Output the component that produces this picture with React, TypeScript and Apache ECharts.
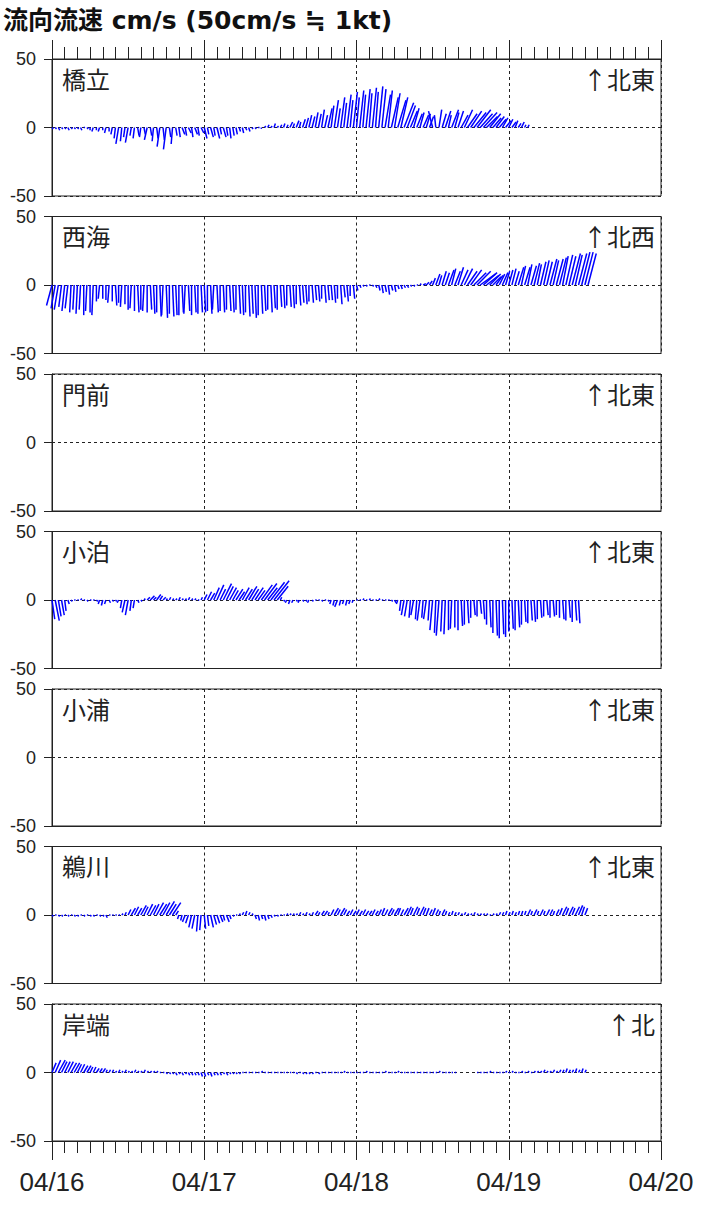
import React, { useEffect, useRef } from "react";
import * as echarts from "echarts";

// ---------- texts ----------
const TITLE = "流向流速 cm/s (50cm/s ≒ 1kt)";
const DAY_LABELS = ["04/16", "04/17", "04/18", "04/19", "04/20"];
const STATIONS = ["橋立", "西海", "門前", "小泊", "小浦", "鵜川", "岸端"];
const DIRECTIONS = ["↑北東", "↑北西", "↑北東", "↑北東", "↑北東", "↑北東", "↑北"];

// sample interval in hours (first sample 04/16 00:00)
const STEP_H = 0.5;

// ---------- data: v = component along the panel's "up" direction, u = across (cm/s) ----------
// 橋立
const hashidateV = [
  -1, -1, -2, -1, -1, -2, -1, -1,
  -1, -2, 0, -1,
  -2, -3, -2, -3, -2, -4, -3, -5,
  -8, -12, -10, -7, -11, -6,
  -8, -6, -7, -5, -9, -6,
  -10, -8, -14, -9, -16, -7, -12, -6,
  -7, -5, -6, -4, -7, -5, -6, -4,
  -8, -5, -7, -6, -8, -5, -7, -6,
  -8, -6, -5, -3, -4, -2, -3, -1,
  -1, 0, -1, 1, 2, 1, 3, 1,
  2, 3, 2, 4, 3, 5, 4, 6,
  7, 9, 8, 11, 10, 13, 9, 14,
  16, 20, 14, 22, 18, 24, 20, 26,
  22, 27, 24, 28, 25, 29, 26, 30,
  28, 24, 27, 22, 25, 20, 22, 18,
  16, 12, 14, 10, 11, 9, 10, 8,
  12, 9, 13, 10, 12, 9, 13, 11,
  12, 9, 13, 10, 12, 11, 13, 10,
  11, 8, 10, 7, 8, 6, 7, 5,
  6, 4, 5, 3, 4, 2, 2,
];
const hashidateU = [
  1, 1, 1, 1, 1, 1, 1, 1,
  1, 1, 1, 1,
  0, -1, 0, -1, 0, -1, 0, -1,
  -1, -2, -1, -1, -2, -1,
  -1, 1, -1, 1, -2, 1,
  -1, 1, -2, 1, -2, 1, -1, 1,
  1, 2, 1, 2, 1, 2, 1, 2,
  2, 1, 2, 1, 2, 1, 2, 1,
  1, 1, 1, 1, 1, 1, 1, 1,
  1, 1, 0, 1, 1, 1, 1, 1,
  1, 1, 1, 2, 1, 2, 1, 2,
  2, 2, 2, 2, 2, 2, 2, 3,
  2, 3, 2, 3, 2, 3, 2, 3,
  2, 3, 2, 3, 2, 3, 2, 3,
  3, 4, 3, 5, 4, 6, 5, 7,
  6, 5, 4, 4, 3, 4, 3, 3,
  -3, -1, 2, 3, 4, 2, 5, 3,
  4, 5, 6, 7, 8, 9, 10, 9,
  10, 8, 8, 6, 6, 5, 4, 4,
  3, 3, 2, 2, 2, 1, 1,
];

// 西海
const saikaiV = [
  -15, -17, -18, -16, -19, -17, -20, -18,
  -21, -18, -22, -19, -20, -22, -12, -10,
  -10, -11, -13, -12, -15, -13, -16, -14,
  -18, -17, -19, -20, -18, -19, -20, -18,
  -21, -20, -23, -22, -24, -21, -23, -22,
  -22, -20, -21, -19, -22, -20, -21, -20,
  -20, -19, -21, -18, -20, -19, -20, -18,
  -19, -20, -18, -21, -22, -20, -23, -21,
  -24, -22, -21, -19, -18, -20, -17, -18,
  -16, -17, -15, -16, -17, -14, -15, -13,
  -14, -12, -13, -11, -12, -10, -13, -11,
  -11, -13, -10, -14, -9, -12, -8, -10,
  -4, -2, -1, -1, 0, -1, -2, -4,
  -6, -5, -7, -4, -5, -3, -3, -2,
  -2, -1, -1, 0, 1, 1, 2, 3,
  5, 8, 7, 10, 9, 11, 12, 10,
  13, 11, 12, 10, 11, 9, 10, 8,
  9, 7, 8, 6, 7, 8, 9, 10,
  11, 12, 10, 13, 14, 13, 15, 14,
  16, 15, 17, 18, 17, 19, 18, 19,
  20, 21, 22, 21, 23, 22, 23, 24,
  24, 23,
];
const saikaiU = [
  -4, -3, -3, -2, -2, -2, -1, -1,
  -1, -1, 0, -1, 0, -1, 0, -1,
  0, 0, -1, 0, 1, 0, -1, 0,
  0, -1, 0, 1, 0, -1, 0, 1,
  1, 0, 1, -1, 1, 0, 1, 1,
  0, 1, -1, 1, 0, 1, 0, 1,
  1, 0, 1, -1, 1, 0, 1, 0,
  1, 1, 0, 1, 1, 0, 1, 1,
  1, 0, 1, 1, 0, 1, 1, 0,
  1, 1, 0, 1, 1, 0, 1, 1,
  1, 0, 1, 1, 1, 0, 1, 1,
  1, 1, 0, 1, 1, 1, 0, 1,
  1, 1, 1, 1, 1, 1, 1, 1,
  1, 1, 1, 1, 1, 1, 1, 1,
  1, 1, 1, 1, 1, 2, 2, 2,
  2, 3, 2, 3, 3, 4, 3, 4,
  4, 5, 6, 7, 8, 9, 10, 11,
  10, 9, 8, 6, 5, 4, 4, 3,
  3, 3, 3, 4, 3, 4, 3, 4,
  4, 3, 4, 4, 4, 5, 4, 5,
  5, 4, 5, 5, 6, 5, 6, 6,
  6, 6,
];

// 門前 / 小浦 : no data
const monzenV: number[] = [];
const monzenU: number[] = [];
const kouraV: number[] = [];
const kouraU: number[] = [];

// 小泊
const kodomariV = [
  -14, -15, -12, -11, -8, -3, -1, 0,
  0, 1, 0, -1, 0, 0, -1, -3,
  -4, -3, -2, -1, -1, -2, -6, -9,
  -11, -8, -6, -2, -1, 1, 2, 3,
  2, 4, 3, 2, 1, 2, 1, 1,
  2, 1, 1, 2, 1, 1, 0, 2,
  4, 6, 5, 9, 11, 8, 12, 10,
  9, 7, 8, 6, 9, 8, 10, 8,
  9, 7, 11, 12, 9, 13, 14, 10,
  2, -1, -2, -3, -2, -1, -2, -1,
  -1, -2, -1, 0, 0, -1, 0, -1,
  -3, -4, -5, -4, -3, -4, -3, -2,
  0, 0, 1, 0, 1, 0, 0, 1,
  0, 0, 0, -1, -2, -3, -8, -11,
  -12, -13, -11, -14, -15, -13, -14, -15,
  -22, -24, -26, -23, -25, -22, -21, -20,
  -22, -19, -18, -17, -13, -11, -12, -10,
  -14, -18, -20, -24, -26, -28, -25, -27,
  -23, -21, -22, -20, -18, -16, -17, -15,
  -16, -14, -13, -12, -11, -13, -12, -11,
  -13, -14, -15, -13, -16, -15, -17,
];
const kodomariU = [
  2, 3, 2, 2, 1, 1, 1, 1,
  1, 1, 1, 1, 1, 1, 1, -1,
  -1, -1, 1, 1, 1, -1, -1, -2,
  -2, -1, -1, 1, 1, 1, 2, 3,
  2, 3, 2, 2, 1, 1, 1, 1,
  1, 1, 1, 1, 1, 1, 1, 1,
  2, 3, 3, 4, 5, 4, 6, 5,
  5, 4, 5, 4, 5, 5, 6, 5,
  6, 5, 8, 9, 7, 10, 11, 8,
  1, 1, -1, -1, -1, 1, -1, 1,
  1, -1, 1, 1, 1, 1, 1, 1,
  -1, -1, -2, -1, -1, -1, -1, -1,
  1, 1, 1, 1, 1, 1, 1, 1,
  1, 1, 1, 1, 1, -1, -1, -2,
  -2, -1, -2, -1, -2, -1, -2, -1,
  -2, -1, -2, -1, -1, 0, -1, 0,
  0, 1, 0, 1, 0, 1, 0, 1,
  1, 0, 1, 0, 1, 0, 1, 0,
  0, 1, 0, 1, 0, 1, 0, 1,
  1, 0, 1, 0, 1, 0, 1, 0,
  0, 1, 0, 1, 0, 1, 1,
];

// 鵜川
const ugawaV = [
  -1, 0, -1, -1, 0, -1, 0, -1,
  -1, 0, -1, 0, -1, -1, 0, -1,
  -1, -2, 0, 0, 0, 0, 1, 2,
  4, 5, 6, 5, 7, 6, 8, 7,
  8, 9, 8, 9, 10, 8, 9, 3,
  -3, -4, -5, -6, -9, -10, -12, -11,
  -10, -8, -9, -7, -6, -5, -4, -5,
  -3, -1, 0, 1, 2, 3, 2, 1,
  -3, -4, -3, -4, -3, -2, -1, -1,
  0, 0, 1, 1, 1, 1, 2, 1,
  2, 1, 2, 3, 2, 3, 3, 2,
  4, 5, 4, 5, 4, 3, 4, 3,
  4, 3, 4, 3, 3, 4, 3, 4,
  5, 4, 5, 4, 5, 5, 4, 5,
  6, 5, 6, 5, 6, 5, 5, 4,
  5, 4, 3, 4, 3, 2, 3, 2,
  2, 1, 2, 1, 1, 2, 1, 1,
  1, 1, 0, 1, 1, 2, 2, 3,
  2, 3, 2, 3, 3, 3, 4, 3,
  4, 3, 4, 3, 4, 4, 3, 4,
  5, 6, 5, 6, 5, 6, 7, 6, 5,
];
const ugawaU = [
  1, 1, 1, 1, 1, 1, 1, 1,
  1, 1, 1, 1, 1, 1, 1, 1,
  1, 1, 1, 1, 1, 1, 1, 1,
  2, 3, 3, 3, 4, 3, 4, 4,
  4, 5, 5, 5, 6, 5, 6, 2,
  -1, -1, -2, -2, -2, -2, -1, -1,
  1, 1, 2, 2, 2, 2, 1, 2,
  1, 1, 1, 1, 1, 1, 1, 1,
  1, 1, 1, 1, 1, 1, 1, 1,
  1, 1, 1, 1, 1, 1, 1, 1,
  1, 1, 1, 2, 1, 2, 2, 1,
  2, 3, 2, 3, 2, 2, 2, 2,
  2, 2, 2, 2, 2, 2, 2, 2,
  2, 2, 3, 2, 3, 2, 2, 3,
  3, 2, 3, 2, 3, 2, 2, 2,
  2, 2, 1, 2, 1, 1, 1, 1,
  1, 1, 1, 1, 1, 1, 1, 1,
  1, 1, 1, 1, 1, 1, 1, 1,
  1, 1, 1, 1, 1, 1, 2, 1,
  2, 1, 2, 1, 2, 2, 1, 2,
  2, 3, 2, 3, 2, 3, 3, 2, 2,
];

// 岸端
const kishibataV = [
  7, 9, 9, 8, 8, 8, 7, 7,
  6, 6, 5, 5, 4, 4, 3, 3,
  3, 2, 2, 2, 1, 2, 1, 2,
  1, 1, 2, 1, 1, 2, 1, 1,
  1, 1, 0, 0, -1, -1, -1, -2,
  -1, -2, -1, -2, -2, -2, -2, -3,
  -3, -2, -3, -2, -2, -2, -1, -2,
  -1, -1, -1, -1, 0, 0, 0, 0,
  0, 0, 1, 0, 0, 0, 0, 0,
  0, 0, 0, 0, 0, -1, 0, -1,
  -1, -1, -1, 0, -1, 0, 0, 0,
  0, 0, 0, 0, 1, 0, 0, 0,
  0, 0, 0, 1, 0, 0, 0, 0,
  0, 1, 0, 0, 0, 1, 0, 0,
  0, 0, 0, 0, 0, 0, 0, 0,
  0, 0, 1, 0, 0, 0, 0, 0,
  0, 0, 0, 0, 0, 0, 0, 0,
  0, 0, 1, 0, 0, 0, 0, 1,
  0, 1, 0, 0, 1, 0, 1, 0,
  1, 1, 1, 2, 1, 1, 2, 1,
  2, 2, 3, 2, 2, 3, 2, 3, 2,
];
const kishibataU = [
  3, 4, 5, 4, 4, 4, 4, 4,
  3, 3, 3, 3, 2, 2, 2, 2,
  2, 1, 1, 1, 1, 1, 1, 1,
  1, 1, 1, 1, 1, 1, 1, 1,
  1, 1, 1, 1, 1, 1, 1, 1,
  1, 1, 1, 1, 1, 1, 1, 1,
  1, 1, 1, 1, 1, 1, 1, 1,
  1, 1, 1, 1, 1, 1, 1, 1,
  1, 1, 1, 1, 1, 1, 1, 1,
  1, 1, 1, 1, 1, 1, 1, 1,
  1, 1, 1, 1, 1, 1, 1, 1,
  1, 1, 1, 1, 1, 1, 1, 1,
  1, 1, 1, 1, 1, 1, 1, 1,
  1, 1, 1, 1, 1, 1, 1, 1,
  1, 1, 1, 1, 1, 1, 1, 1,
  1, 1, 1, 1, 1, 1, 1, 1,
  0, 0, 0, 0, 0, 0, 1, 1,
  1, 1, 1, 1, 1, 1, 1, 1,
  1, 1, 1, 1, 1, 1, 1, 1,
  1, 1, 1, 1, 1, 1, 1, 1,
  1, 1, 1, 1, 1, 1, 1, 1, 1,
];

const V_SERIES = [hashidateV, saikaiV, monzenV, kodomariV, kouraV, ugawaV, kishibataV];
const U_SERIES = [hashidateU, saikaiU, monzenU, kodomariU, kouraU, ugawaU, kishibataU];

// ---------- layout ----------
const W = 709;
const H = 1220;
const GRID_LEFT = 52;
const GRID_RIGHT = 48;
const GRID_TOP = 59;
const GRID_STEP = 157.5;
const GRID_H = 137;
const INK = "#222222";
const STICK = "#0000ff";
const LATIN = "'Liberation Sans', Arial, sans-serif";
const CJK = "'Noto Sans CJK JP', sans-serif";

const renderStick = (_params: any, api: any) => {
  const t = api.value(0);
  const u = api.value(1);
  const v = api.value(2);
  const base = api.coord([t, 0]);
  const tip = api.coord([t, v]);
  const unit = base[1] - api.coord([t, 1])[1];
  return {
    type: "line",
    shape: { x1: base[0], y1: base[1], x2: base[0] + u * unit, y2: tip[1] },
    style: { stroke: STICK, lineWidth: 1.5 },
  };
};

export default function App() {
  const ref = useRef<HTMLDivElement>(null);

  useEffect(() => {
    if (!ref.current) return;
    const chart = echarts.init(ref.current, undefined, { renderer: "svg", width: W, height: H });
    const n = STATIONS.length;
    const idx = STATIONS.map((_, i) => i);

    const option: any = {
      animation: false,
      backgroundColor: "#ffffff",
      grid: idx.map((i) => ({
        left: GRID_LEFT,
        right: GRID_RIGHT,
        top: GRID_TOP + i * GRID_STEP,
        height: GRID_H,
        show: true,
        borderColor: INK,
        borderWidth: 1,
        backgroundColor: "transparent",
      })),
      xAxis: idx.map((i) => {
        const ticks = i === 0 || i === n - 1;
        return {
          type: "value",
          gridIndex: i,
          min: 0,
          max: 96,
          interval: 24,
          position: i === 0 ? "top" : "bottom",
          axisLine: { show: true, onZero: false, lineStyle: { color: INK, width: 1 } },
          axisTick: { show: ticks, length: 19, lineStyle: { color: INK, width: 1 } },
          minorTick: { show: ticks, splitNumber: 12, length: 12, lineStyle: { color: INK, width: 1 } },
          axisLabel: {
            show: i === n - 1,
            formatter: (val: number) => DAY_LABELS[Math.round(val / 24)] ?? "",
            fontSize: 26,
            fontFamily: LATIN,
            color: INK,
            margin: 28,
            showMinLabel: true,
            showMaxLabel: true,
          },
          splitLine: { show: true, lineStyle: { type: [3, 3], color: INK, width: 1 } },
          minorSplitLine: { show: false },
        };
      }),
      yAxis: idx.map((i) => ({
        type: "value",
        gridIndex: i,
        min: -50,
        max: 50,
        interval: 50,
        axisLine: { show: true, onZero: false, lineStyle: { color: INK, width: 1 } },
        axisTick: { show: true, length: 8, lineStyle: { color: INK, width: 1 } },
        axisLabel: { fontSize: 18, fontFamily: LATIN, color: INK, margin: 16, showMinLabel: true, showMaxLabel: true },
        splitLine: { show: true, lineStyle: { type: [3, 3], color: INK, width: 1 } },
      })),
      series: idx.map((i) => ({
        type: "custom",
        xAxisIndex: i,
        yAxisIndex: i,
        renderItem: renderStick,
        clip: false,
        silent: true,
        encode: { x: 0, y: 2 },
        data: V_SERIES[i].map((v, k) => [k * STEP_H, U_SERIES[i][k], v]),
      })),
      graphic: [
        {
          type: "text",
          left: 3,
          top: 8,
          style: {
            text: TITLE,
            fontSize: 25,
            fontWeight: "bold",
            fontFamily: "'DejaVu Sans', 'Noto Sans CJK JP', sans-serif",
            fill: "#111111",
          },
        },
        ...idx.map((i) => ({
          type: "text",
          x: 62,
          y: GRID_TOP + i * GRID_STEP + 7,
          style: { text: STATIONS[i], fontSize: 24, fontFamily: CJK, fill: INK, textVerticalAlign: "top" },
        })),
        ...idx.map((i) => ({
          type: "text",
          x: 655,
          y: GRID_TOP + i * GRID_STEP + 7,
          style: {
            text: DIRECTIONS[i],
            fontSize: 24,
            fontFamily: CJK,
            fill: INK,
            textAlign: "right",
            textVerticalAlign: "top",
          },
        })),
      ],
    };

    chart.setOption(option);
    return () => chart.dispose();
  }, []);

  return (
    <div
      ref={ref}
      style={{ position: "absolute", left: 0, top: 0, width: W, height: H, background: "#fff" }}
    />
  );
}
